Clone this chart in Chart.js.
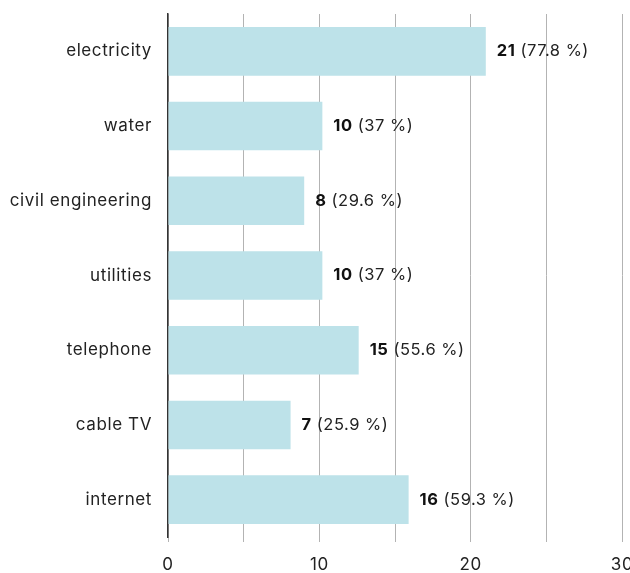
<!DOCTYPE html>
<html>
<head>
<meta charset="utf-8">
<script src="https://cdn.jsdelivr.net/npm/chart.js@4"></script>
<style>
  html, body { margin: 0; padding: 0; background: #fff; overflow: hidden; }
  .wrap { position: relative; width: 630px; height: 573px; }
</style>
</head>
<body>
<div class="wrap"><canvas id="myChart"></canvas></div>
<script>
const categories = ['electricity', 'water', 'civil engineering', 'utilities', 'telephone', 'cable TV', 'internet'];
// bar lengths as drawn in the picture
const barValues = [21, 10.2, 9, 10.2, 12.6, 8.1, 15.9];
// numbers printed next to each bar
const counts = [21, 10, 8, 10, 15, 7, 16];
const percents = [77.8, 37, 29.6, 37, 55.6, 25.9, 59.3];
const xTicks = [0, 10, 20, 30];

const FONT = 'Inter, Lato, sans-serif';

// a bit of tracking, the original font runs wide
const spacing = {
    id: 'spacing',
    beforeDraw(chart) { chart.ctx.letterSpacing = '0.6px'; }
};

const valueLabels = {
    id: 'valueLabels',
    afterDatasetsDraw(chart) {
        const ctx = chart.ctx;
        const meta = chart.getDatasetMeta(0);
        ctx.save();
        ctx.letterSpacing = '0.5px';
        ctx.textBaseline = 'middle';
        ctx.textAlign = 'left';
        meta.data.forEach((bar, i) => {
            const x = bar.x + 11;
            const y = bar.y;
            ctx.font = 'bold 16.5px ' + FONT;
            ctx.fillStyle = '#111';
            const c = String(counts[i]);
            ctx.fillText(c, x, y);
            const w = ctx.measureText(c).width;
            ctx.font = '16.5px ' + FONT;
            ctx.fillStyle = '#222';
            ctx.fillText(' (' + percents[i] + ' %)', x + w, y);
        });
        ctx.restore();
    }
};

const ctx = document.getElementById('myChart').getContext('2d');

new Chart(ctx, {
    type: 'bar',
    data: {
        labels: categories,
        datasets: [{
            data: barValues,
            backgroundColor: '#bde2e9',
            borderWidth: 0,
            categoryPercentage: 1,
            barPercentage: 0.65
        }]
    },
    options: {
        indexAxis: 'y',
        responsive: true,
        maintainAspectRatio: false,
        animation: false,
        layout: { padding: { top: 14, right: 0, left: 0, bottom: 0 } },
        plugins: {
            legend: { display: false },
            tooltip: { enabled: false }
        },
        scales: {
            x: {
                min: 0,
                max: 30,
                ticks: {
                    stepSize: 5,
                    color: '#222',
                    padding: 13,
                    maxRotation: 0,
                    font: { family: FONT, size: 17 },
                    callback: (v) => xTicks.includes(v) ? String(v) : ''
                },
                grid: {
                    color: '#b3b3b3',
                    lineWidth: 1,
                    drawTicks: true,
                    tickLength: 5
                },
                border: { display: false },
                afterFit: (s) => {
                    s.height = 36;
                    s.paddingRight = 8;
                    s.paddingLeft = 0;
                }
            },
            y: {
                ticks: {
                    color: '#222',
                    padding: 16,
                    font: { family: FONT, size: 17 }
                },
                grid: { display: false, drawTicks: false },
                border: { display: true, color: '#333', width: 1.5 },
                afterFit: (s) => {
                    s.width = 168;
                    s.paddingTop = 0;
                    s.paddingBottom = 0;
                }
            }
        }
    },
    plugins: [spacing, valueLabels]
});
</script>
</body>
</html>
